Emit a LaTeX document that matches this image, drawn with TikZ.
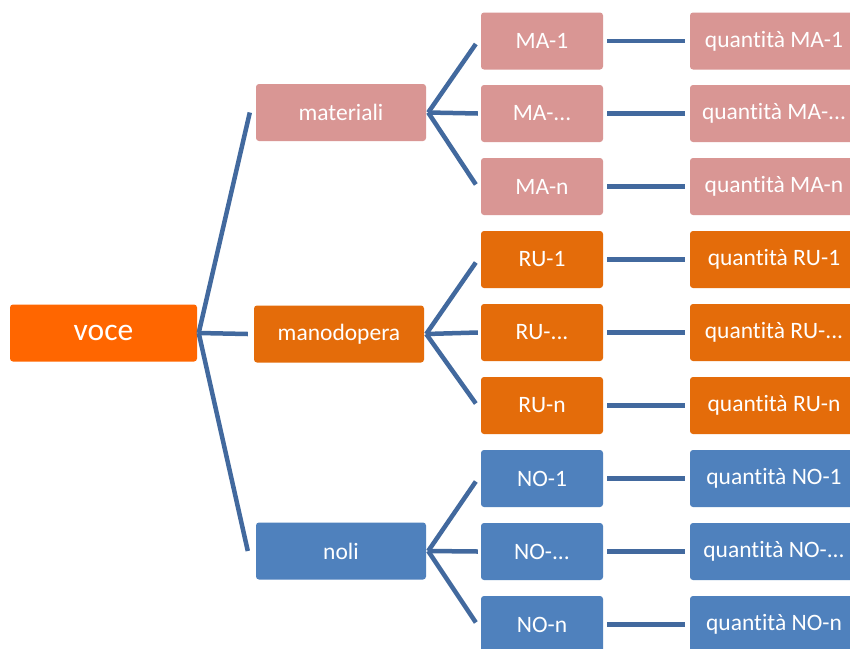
\documentclass[tikz,border=0pt]{standalone}
\usepackage{fontspec}
\setmainfont{Carlito}[RawFeature={-liga;-dlig;-calt;-clig}]
\definecolor{cvoce}{HTML}{FF6600}
\definecolor{cmat}{HTML}{D99694}
\definecolor{cman}{HTML}{E46C0A}
\definecolor{cnol}{HTML}{4F81BD}
\definecolor{cline}{HTML}{42699E}
\tikzset{
  box/.style={rounded corners=3pt, text=white, inner sep=0pt, minimum height=57pt, font=\fontsize{23.5}{26}\selectfont},
  rootbox/.style={box, fill=cvoce, minimum width=187pt, font=\fontsize{31.5}{34}\selectfont},
  lone/.style={box, minimum width=170pt},
  ltwo/.style={box, minimum width=122pt},
  lthree/.style={box, minimum width=168pt},
  conn/.style={draw=cline, line width=4.5pt},
}
\begin{document}
\begin{tikzpicture}[x=1pt,y=-1pt]
\useasboundingbox (0,0) rectangle (850,648);
\clip (0,0) rectangle (850,648);
\fill[white] (0,0) rectangle (850,648);
\node[rootbox] (voce) at (103.5,333) {voce};
\node[lone, fill=cmat] (mat) at (341,112.5) {materiali};
\node[lone, fill=cman] (man) at (339,334) {manodopera};
\node[lone, fill=cnol] (nol) at (341,551) {noli};
% level 2
\node[ltwo, fill=cmat] (ma1) at (542,41) {MA-1};
\node[ltwo, fill=cmat] (ma2) at (542,113.5) {MA-...};
\node[ltwo, fill=cmat] (ma3) at (542,186.5) {MA-n};
\node[ltwo, fill=cman] (ru1) at (542,259.5) {RU-1};
\node[ltwo, fill=cman] (ru2) at (542,332.5) {RU-...};
\node[ltwo, fill=cman] (ru3) at (542,405.5) {RU-n};
\node[ltwo, fill=cnol] (no1) at (542,478.5) {NO-1};
\node[ltwo, fill=cnol] (no2) at (542,551.5) {NO-...};
\node[ltwo, fill=cnol] (no3) at (542,624.5) {NO-n};
% level 3
\node[lthree, fill=cmat] (qma1) at (774,41) {quantità MA-1};
\node[lthree, fill=cmat] (qma2) at (774,113.5) {quantità MA-...};
\node[lthree, fill=cmat] (qma3) at (774,186.5) {quantità MA-n};
\node[lthree, fill=cman] (qru1) at (774,259.5) {quantità RU-1};
\node[lthree, fill=cman] (qru2) at (774,332.5) {quantità RU-...};
\node[lthree, fill=cman] (qru3) at (774,405.5) {quantità RU-n};
\node[lthree, fill=cnol] (qno1) at (774,478.5) {quantità NO-1};
\node[lthree, fill=cnol] (qno2) at (774,551.5) {quantità NO-...};
\node[lthree, fill=cnol] (qno3) at (774,624.5) {quantità NO-n};
% connectors level 1
\draw[conn] ([xshift=1.5pt]voce.east) -- ([xshift=-6pt]mat.west);
\draw[conn] ([xshift=1.5pt]voce.east) -- ([xshift=-6pt]man.west);
\draw[conn] ([xshift=1.5pt]voce.east) -- ([xshift=-8pt]nol.west);
% connectors level 2
\foreach \p/\a/\b/\c in {mat/ma1/ma2/ma3, man/ru1/ru2/ru3, nol/no1/no2/no3}{
  \draw[conn] ([xshift=2pt]\p.east) -- ([xshift=-5pt,yshift=-3pt]\a.west);
  \draw[conn] ([xshift=2pt]\p.east) -- ([xshift=-3pt]\b.west);
  \draw[conn] ([xshift=2pt]\p.east) -- ([xshift=-5pt,yshift=2pt]\c.west);
}
% connectors level 3
\foreach \a/\b in {ma1/qma1, ma2/qma2, ma3/qma3, ru1/qru1, ru2/qru2, ru3/qru3, no1/qno1, no2/qno2, no3/qno3}{
  \draw[conn] ([xshift=4pt]\a.east) -- ([xshift=-5pt]\b.west);
}
\end{tikzpicture}
\end{document}
